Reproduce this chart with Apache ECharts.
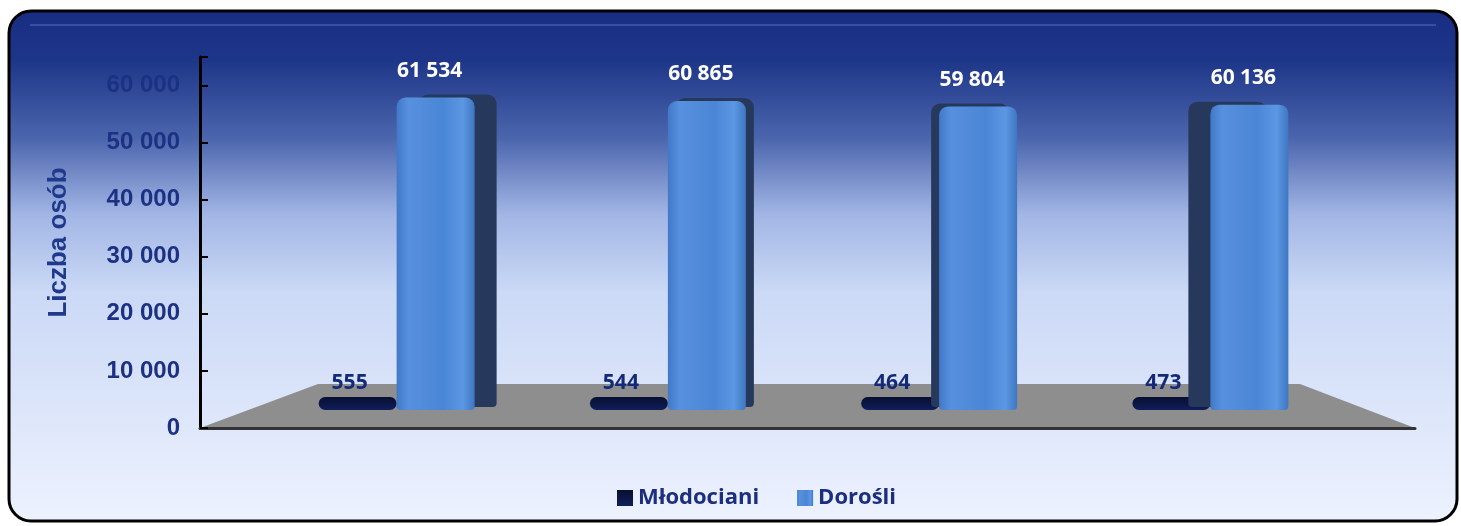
<!DOCTYPE html>
<html>
<head>
<meta charset="utf-8">
<script src="https://cdn.jsdelivr.net/npm/echarts@6/dist/echarts.min.js"></script>
<style>
  html, body { margin: 0; padding: 0; background: #fff; }
  #main { width: 1461px; height: 526px; }
</style>
</head>
<body>
<div id="main"></div>
<script>
const categories = ['1', '2', '3', '4'];
const mlodociani = [555, 544, 464, 473];
const dorosli = [61534, 60865, 59804, 60136];
const yTicks = [0, 10000, 20000, 30000, 40000, 50000, 60000];

// fake 3d side face of the big bars (perspective: right side on the left bars, left side on the right ones)
const sideShift = [22, 8, -8, -22];

const fmt = (v) => String(v).replace(/\B(?=(\d{3})+(?!\d))/g, ' ');

const chart = echarts.init(document.getElementById('main'));

const navy = '#1c3183';

const option = {
    animation: false,
    graphic: [
        {
            type: 'rect',
            z: -10,
            shape: { x: 9, y: 11, width: 1448, height: 510, r: 22 },
            style: {
                fill: new echarts.graphic.LinearGradient(0, 0, 0, 1, [
                    { offset: 0, color: '#172d83' },
                    { offset: 0.1, color: '#1e3688' },
                    { offset: 0.25, color: '#4b65ad' },
                    { offset: 0.4, color: '#a2b6e5' },
                    { offset: 0.55, color: '#cbd9f6' },
                    { offset: 1, color: '#edf2fe' }
                ]),
                stroke: '#000',
                lineWidth: 3
            }
        },
        {
            // soft gloss along the top of the panel
            type: 'line',
            z: -9,
            shape: { x1: 30, y1: 25, x2: 1436, y2: 25 },
            style: { stroke: 'rgba(110,140,210,0.35)', lineWidth: 2 }
        },
        {
            // grey floor of the 3d plot
            type: 'polygon',
            z: -5,
            shape: { points: [[200, 428], [318, 384], [1300, 384], [1415, 428]] },
            style: { fill: '#8e8e8e' }
        }
    ],
    grid: [
        { left: 200, right: 46, top: 57, bottom: 98 },
        { left: 261, right: 115, top: 80, bottom: 116 }
    ],
    xAxis: [
        {
            type: 'category',
            gridIndex: 0,
            data: categories,
            axisLine: { lineStyle: { color: '#333', width: 3 } },
            axisTick: { alignWithLabel: true, length: 6, lineStyle: { color: '#000', width: 2 } },
            axisLabel: { show: false }
        },
        {
            type: 'category',
            gridIndex: 1,
            data: categories,
            show: false
        }
    ],
    yAxis: [
        {
            type: 'value',
            gridIndex: 0,
            min: 0,
            max: 65000,
            interval: 10000,
            name: 'Liczba osób',
            nameLocation: 'middle',
            nameGap: 128,
            nameTextStyle: { fontFamily: 'Liberation Sans', fontWeight: 'bold', fontSize: 26, color: '#1f3a8c' },
            axisLine: { show: true, lineStyle: { color: '#000', width: 3 } },
            axisTick: { show: true, inside: true, length: 8, lineStyle: { color: '#000', width: 2 } },
            splitLine: { show: false },
            axisLabel: {
                margin: 20,
                fontFamily: 'Liberation Sans',
                fontWeight: 'bold',
                fontSize: 24,
                color: navy,
                formatter: (v) => (yTicks.includes(v) ? fmt(v) : '')
            }
        },
        {
            type: 'value',
            gridIndex: 1,
            min: 0,
            max: 65000,
            show: false
        }
    ],
    legend: {
        top: 482,
        left: 612,
        itemWidth: 16,
        itemHeight: 16,
        itemGap: 38,
        icon: 'rect',
        textStyle: { fontFamily: 'Open Sans', fontWeight: 'bold', fontSize: 22, color: '#1b2f7e' },
        data: ['Młodociani', 'Dorośli']
    },
    series: [
        {
            name: 'Młodociani',
            type: 'bar',
            xAxisIndex: 1,
            yAxisIndex: 1,
            barWidth: 78,
            barGap: '0%',
            barMinHeight: 13,
            data: mlodociani,
            itemStyle: {
                color: new echarts.graphic.LinearGradient(0, 0, 0, 1, [
                    { offset: 0, color: '#080f30' },
                    { offset: 1, color: '#101e5c' }
                ]),
                borderRadius: 7
            },
            label: {
                show: true,
                position: 'top',
                distance: 3,
                offset: [-8, 0],
                fontFamily: 'Open Sans',
                fontWeight: 'bold',
                fontSize: 21,
                color: '#142a78',
                formatter: (p) => fmt(p.value)
            }
        },
        {
            name: 'Dorośli',
            type: 'bar',
            xAxisIndex: 1,
            yAxisIndex: 1,
            barWidth: 78,
            barGap: '0%',
            data: dorosli.map((v, i) => ({
                value: v,
                itemStyle: { shadowOffsetX: sideShift[i] }
            })),
            itemStyle: {
                color: new echarts.graphic.LinearGradient(0, 0, 1, 0, [
                    { offset: 0, color: '#4179c8' },
                    { offset: 0.15, color: '#5790dd' },
                    { offset: 0.6, color: '#4a86d6' },
                    { offset: 0.85, color: '#5b97e2' },
                    { offset: 1, color: '#3f76c2' }
                ]),
                borderRadius: [9, 9, 4, 4],
                shadowColor: '#26395c',
                shadowBlur: 0,
                shadowOffsetY: -3
            },
            label: {
                show: true,
                position: 'top',
                distance: 16,
                offset: [-6, 0],
                fontFamily: 'Open Sans',
                fontWeight: 'bold',
                fontSize: 21,
                color: '#ffffff',
                formatter: (p) => fmt(p.value)
            }
        }
    ]
};

chart.setOption(option);
</script>
</body>
</html>
